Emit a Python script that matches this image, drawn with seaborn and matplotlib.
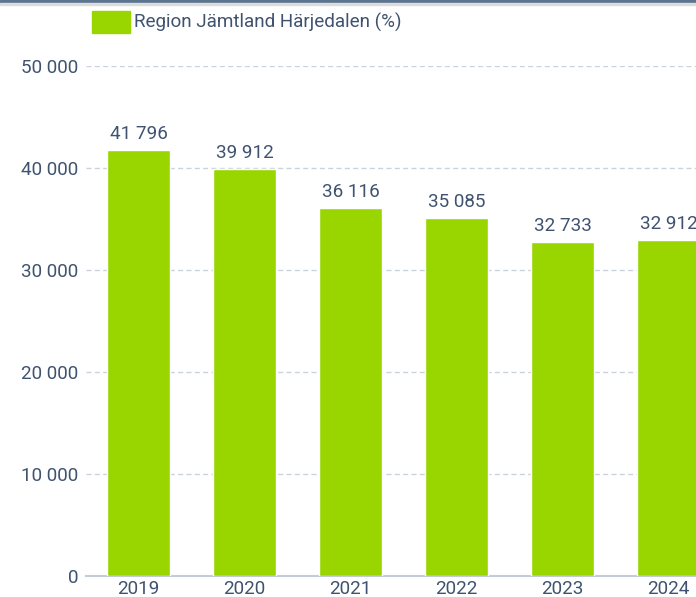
import matplotlib
matplotlib.use("Agg")
import matplotlib.pyplot as plt
import seaborn as sns
from matplotlib.patches import Rectangle

years = ["2019", "2020", "2021", "2022", "2023", "2024"]
values = [41796, 39912, 36116, 35085, 32733, 32912]
series_name = "Region Jämtland Härjedalen (%)"
yticks = [0, 10000, 20000, 30000, 40000, 50000]

GREEN = "#99d600"
TEXT = "#3f5370"
GRID = "#c9d3df"
FS = 13.6

sns.set_theme(style="white")
plt.rcParams["font.family"] = ["Roboto", "DejaVu Sans"]

W, H = 696, 597
fig = plt.figure(figsize=(W / 100, H / 100), dpi=100)
left, bottom, top = 85.5, 576, 66
band = 106
ax = fig.add_axes([left / W, (H - bottom) / H, band * len(years) / W, (bottom - top) / H])

sns.barplot(x=years, y=values, color=GREEN, width=0.6, saturation=1, ax=ax, zorder=3)

def fmt(v):
    return f"{v:,}".replace(",", " ")

ax.set_ylim(0, 50000)
ax.set_xlim(-0.5, len(years) - 0.5)
ax.set_yticks(yticks)
ax.set_yticklabels([fmt(t) for t in yticks])
ax.tick_params(axis="both", length=0, labelsize=FS, colors=TEXT)
ax.tick_params(axis="y", pad=5)
ax.tick_params(axis="x", pad=3)
ax.yaxis.grid(True, linestyle=(0, (3.6, 2.4)), color=GRID, linewidth=1, zorder=0)
ax.set_axisbelow(True)
for s in ["top", "right", "left"]:
    ax.spines[s].set_visible(False)
ax.spines["bottom"].set_color("#c3cbd6")
ax.spines["bottom"].set_linewidth(1.5)
ax.set_xlabel("")
ax.set_ylabel("")

for i, v in enumerate(values):
    ax.annotate(fmt(v), (i, v), xytext=(0, 5), textcoords="offset points",
                ha="center", va="bottom", fontsize=FS, color=TEXT)

# legend
fig.patches.append(Rectangle((92 / W, 1 - 33 / H), 38 / W, 22 / H,
                             transform=fig.transFigure, color=GREEN))
fig.text(134 / W, 1 - 22 / H, series_name, ha="left", va="center",
         fontsize=FS, color=TEXT)

# header strip
fig.patches.append(Rectangle((0, 1 - 3 / H), 1, 3 / H, transform=fig.transFigure,
                             color="#5b7590"))
fig.patches.append(Rectangle((0, 1 - 4.5 / H), 1, 1.5 / H, transform=fig.transFigure,
                             color="#dcdcdc"))

fig.savefig("out.png", dpi=100)
